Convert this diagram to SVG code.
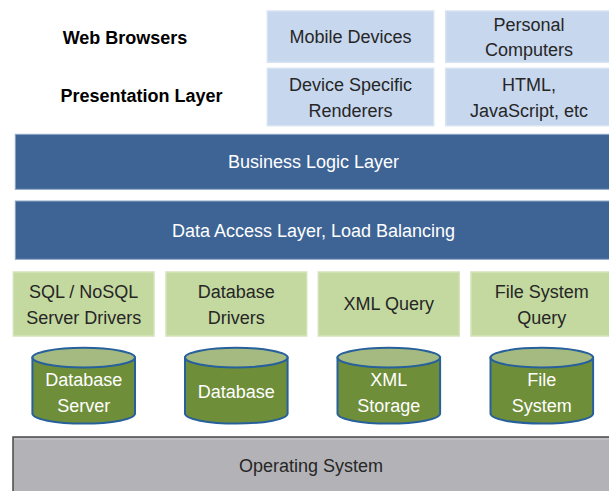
<svg xmlns="http://www.w3.org/2000/svg" width="609" height="491" viewBox="0 0 609 491">
  <style>
    text { font-family: "Liberation Sans", Arial, sans-serif; font-size: 18px; text-anchor: middle; }
    .lbl { font-weight: bold; fill: #000; }
    .dark { fill: #262626; }
    .light { fill: #ffffff; }
    .client { fill: #c6d7ee; stroke: #d9e4f3; stroke-width: 1.5; }
    .band { fill: #3d6495; stroke: #8da6c6; stroke-width: 1; }
    .driver { fill: #c4d9a0; stroke: #d4e3ba; stroke-width: 1.5; }
    .cyl-body { fill: #6e8e39; stroke: #27609a; stroke-width: 2; }
    .cyl-top { fill: #a5ba80; stroke: #27609a; stroke-width: 2; }
    .os { fill: #b3b3b7; stroke: #4a4a4a; stroke-width: 1.5; }
  </style>
  <defs>
    <!-- storage drum, centred on x=0, top cap at y=0 -->
    <g id="drum">
      <path class="cyl-body" d="M -51.3 0 L -51.3 56 A 51.3 10 0 0 0 51.3 56 L 51.3 0 Z"/>
      <ellipse class="cyl-top" cx="0" cy="0" rx="51.3" ry="9.8"/>
    </g>
  </defs>

  <rect width="609" height="491" fill="#ffffff"/>

  <!-- row captions -->
  <g id="web-browsers"><text class="lbl" x="125" y="44">Web Browsers</text></g>
  <g id="presentation-layer"><text class="lbl" x="141.5" y="102">Presentation Layer</text></g>

  <!-- client tier -->
  <g id="mobile-devices">
    <rect class="client" x="267.3" y="11" width="166.4" height="51.3"/>
    <text class="dark" x="350.5" y="43">Mobile Devices</text>
  </g>
  <g id="personal-computers">
    <rect class="client" x="445.7" y="11" width="166.4" height="51.3"/>
    <text class="dark" x="529" y="30.5">Personal</text>
    <text class="dark" x="529" y="55.5">Computers</text>
  </g>
  <g id="device-renderers">
    <rect class="client" x="267.3" y="68.3" width="166.4" height="57.4"/>
    <text class="dark" x="350.5" y="91">Device Specific</text>
    <text class="dark" x="350.5" y="116.5">Renderers</text>
  </g>
  <g id="html-js">
    <rect class="client" x="445.7" y="68.3" width="166.4" height="57.4"/>
    <text class="dark" x="529" y="91">HTML,</text>
    <text class="dark" x="529" y="116.5">JavaScript, etc</text>
  </g>

  <!-- middle tiers -->
  <g id="business-logic">
    <rect class="band" x="15.3" y="134.3" width="600" height="55"/>
    <text class="light" x="313.5" y="168">Business Logic Layer</text>
  </g>
  <g id="data-access">
    <rect class="band" x="15.3" y="201" width="600" height="58.3"/>
    <text class="light" x="313.5" y="237">Data Access Layer, Load Balancing</text>
  </g>

  <!-- drivers -->
  <g id="sql-drivers">
    <rect class="driver" x="13.3" y="272" width="140.7" height="64"/>
    <text class="dark" x="83.7" y="298">SQL / NoSQL</text>
    <text class="dark" x="83.7" y="324">Server Drivers</text>
  </g>
  <g id="db-drivers">
    <rect class="driver" x="166" y="272" width="140.7" height="64"/>
    <text class="dark" x="236.3" y="298">Database</text>
    <text class="dark" x="236.3" y="324">Drivers</text>
  </g>
  <g id="xml-query">
    <rect class="driver" x="318.3" y="272" width="141" height="64"/>
    <text class="dark" x="388.8" y="310">XML Query</text>
  </g>
  <g id="fs-query">
    <rect class="driver" x="471" y="272" width="145" height="64"/>
    <text class="dark" x="541.8" y="298">File System</text>
    <text class="dark" x="541.8" y="324">Query</text>
  </g>

  <!-- storage -->
  <g id="database-server">
    <use href="#drum" x="83.7" y="357.6"/>
    <text class="light" x="83.7" y="386">Database</text>
    <text class="light" x="83.7" y="411.5">Server</text>
  </g>
  <g id="database">
    <use href="#drum" x="236.3" y="357.6"/>
    <text class="light" x="236.3" y="397.5">Database</text>
  </g>
  <g id="xml-storage">
    <use href="#drum" x="388.8" y="357.6"/>
    <text class="light" x="388.8" y="386">XML</text>
    <text class="light" x="388.8" y="411.5">Storage</text>
  </g>
  <g id="file-system">
    <use href="#drum" x="541.8" y="357.6"/>
    <text class="light" x="541.8" y="386">File</text>
    <text class="light" x="541.8" y="411.5">System</text>
  </g>

  <!-- base tier -->
  <g id="operating-system">
    <rect class="os" x="13" y="437" width="600" height="60"/>
    <line x1="14" y1="439" x2="612" y2="439" stroke="#c4c4c8" stroke-width="1.5"/>
    <text class="dark" x="311" y="472">Operating System</text>
  </g>

  <!-- connectors: none drawn in this layered stack -->
  <g id="connectors"></g>
</svg>
